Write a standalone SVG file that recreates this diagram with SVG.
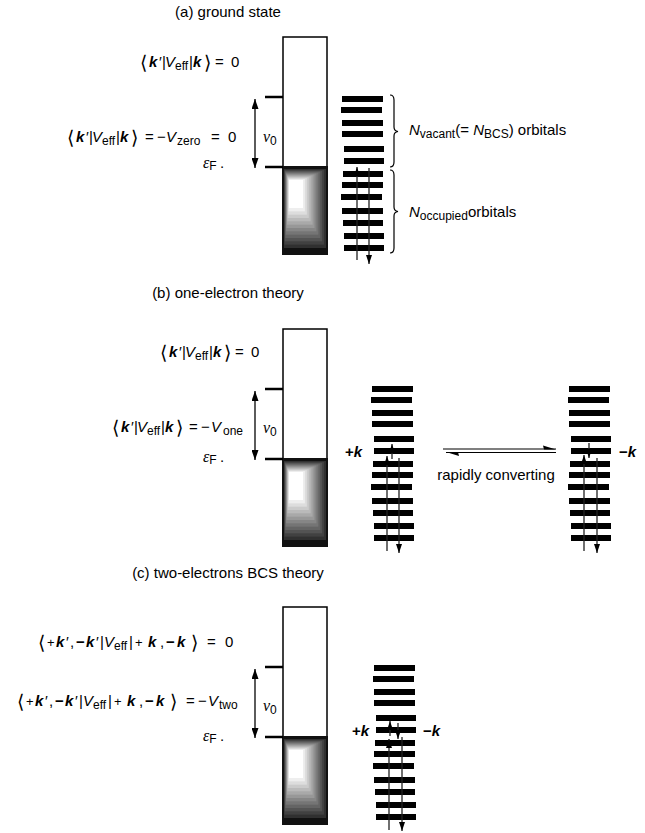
<svg xmlns="http://www.w3.org/2000/svg" xmlns:xlink="http://www.w3.org/1999/xlink" width="645" height="833" viewBox="0 0 645 833">
<style>
  text { font-family: "Liberation Sans", Arial, sans-serif; font-size: 15px; fill: #000; }
  .bk { font-weight: bold; font-style: italic; }
  .it { font-style: italic; }
  .sb { font-size: 12px; }
  .br { font-family: "DejaVu Sans", sans-serif; font-size: 19px; }
  .gr { font-family: "Liberation Serif", serif; font-style: italic; font-size: 16px; }
  .ttl { text-anchor: middle; }
  .bar { fill: #000; }
  .ln { stroke: #222; stroke-width: 1.3; fill: none; }
  .dbl { stroke: #333; stroke-width: 1.6; fill: none; }
  .tick { stroke: #000; stroke-width: 2.5; }
  .brace { stroke: #000; stroke-width: 1.2; fill: none; }
  .eq { stroke: #000; stroke-width: 1.2; fill: none; }
</style>
<defs>
  <marker id="ah" viewBox="0 0 10 7" refX="10" refY="3.5" markerWidth="10" markerHeight="7" markerUnits="userSpaceOnUse" orient="auto-start-reverse">
    <path d="M0,0 L10,3.5 L0,7 z" fill="#000"/>
  </marker>
  <marker id="as" viewBox="0 0 9 6" refX="9" refY="3" markerWidth="9" markerHeight="6" markerUnits="userSpaceOnUse" orient="auto">
    <path d="M0,0 L9,3 L0,6 z" fill="#000"/>
  </marker>
  <!-- energy band: empty upper part, filled (shaded) part below the Fermi level -->
  <g id="band">
    <rect x="283" y="0" width="44" height="130" fill="#fff" stroke="#000" stroke-width="1.5"/>
    <rect x="282" y="129" width="46" height="89" fill="#111"/>
    <rect x="284" y="132" width="42" height="79" fill="#303030"/>
    <rect x="284.42" y="132.92" width="39.67" height="74.75" fill="#414141"/>
    <rect x="284.83" y="133.83" width="37.33" height="70.5" fill="#535353"/>
    <rect x="285.25" y="134.75" width="35" height="66.25" fill="#646464"/>
    <rect x="285.67" y="135.67" width="32.67" height="62" fill="#757575"/>
    <rect x="286.08" y="136.58" width="30.33" height="57.75" fill="#868686"/>
    <rect x="286.5" y="137.5" width="28" height="53.5" fill="#989898"/>
    <rect x="286.92" y="138.42" width="25.67" height="49.25" fill="#a9a9a9"/>
    <rect x="287.33" y="139.33" width="23.33" height="45" fill="#bababa"/>
    <rect x="287.75" y="140.25" width="21" height="40.75" fill="#cbcbcb"/>
    <rect x="288.17" y="141.17" width="18.67" height="36.5" fill="#dddddd"/>
    <rect x="288.58" y="142.08" width="16.33" height="32.25" fill="#eeeeee"/>
    <rect x="289" y="143" width="14" height="28" fill="#fff"/>
    <line class="tick" x1="265" y1="60" x2="283" y2="60"/>
    <line class="tick" x1="265" y1="130" x2="283" y2="130"/>
    <line class="dbl" x1="255" y1="62" x2="255" y2="131" marker-start="url(#ah)" marker-end="url(#ah)"/>
  </g>
  <!-- ladder of orbital levels -->
  <g id="ladder">
    <rect class="bar" x="0" y="-3" width="41" height="6"/>
    <rect class="bar" x="-1" y="8" width="41" height="6"/>
    <rect class="bar" x="0" y="21" width="41" height="6"/>
    <rect class="bar" x="0" y="32" width="41" height="6"/>
    <rect class="bar" x="2" y="47" width="40" height="6"/>
    <rect class="bar" x="2" y="59" width="40" height="6"/>
    <rect class="bar" x="1" y="72" width="40" height="6"/>
    <rect class="bar" x="0" y="83" width="41" height="6"/>
    <rect class="bar" x="-1" y="95" width="41" height="6"/>
    <rect class="bar" x="0" y="109" width="41" height="6"/>
    <rect class="bar" x="1" y="121" width="40" height="6"/>
    <rect class="bar" x="2" y="134" width="40" height="6"/>
    <rect class="bar" x="2" y="146" width="40" height="6"/>
  </g>
</defs>

<!-- (a) ground state -->
<text class="ttl" x="228" y="17">(a) ground state</text>
<g id="band-a"><use xlink:href="#band" transform="translate(0,37)"/></g>
<g id="eq-a1"><text x="140" y="67"><tspan class="br" dy="2">⟨</tspan><tspan class="bk" x="149" dy="-2">k</tspan><tspan x="159">′</tspan><tspan x="162">|</tspan><tspan class="it" x="165">V</tspan><tspan class="sb" x="175" dy="3">eff</tspan><tspan x="189" dy="-3">|</tspan><tspan class="bk" x="193">k</tspan><tspan class="br" x="204" dy="2">⟩</tspan><tspan x="215" dy="-2">=</tspan><tspan x="231">0</tspan></text></g>
<g id="eq-a2"><text x="67" y="142"><tspan class="br" dy="2">⟨</tspan><tspan class="bk" x="76" dy="-2">k</tspan><tspan x="86">′</tspan><tspan x="89">|</tspan><tspan class="it" x="92">V</tspan><tspan class="sb" x="102" dy="3">eff</tspan><tspan x="116" dy="-3">|</tspan><tspan class="bk" x="120">k</tspan><tspan class="br" x="131" dy="2">⟩</tspan><tspan x="145" dy="-2">=</tspan><tspan x="157">−</tspan><tspan class="it" x="166">V</tspan><tspan class="sb" x="177" dy="3" font-size="13">zero</tspan><tspan x="211" dy="-3">=</tspan><tspan x="228">0</tspan></text></g>
<g id="nu-a"><text x="263" y="142"><tspan class="gr">ν</tspan><tspan class="sb" dy="3">0</tspan></text></g>
<g id="ef-a"><text x="203" y="168"><tspan class="gr" font-size="14">ε</tspan><tspan class="sb" font-size="11" dy="2">F</tspan><tspan x="220" dy="-2">.</tspan></text></g>
<g id="orb-a">
  <use xlink:href="#ladder" transform="translate(342,99)"/>
  <line class="ln" x1="357" y1="260" x2="357" y2="167" marker-end="url(#as)"/>
  <line class="ln" x1="369" y1="168" x2="369" y2="264" marker-end="url(#as)"/>
</g>
<g id="lbl-a">
  <path class="brace" d="M390,95 Q394,95 394,100 L394,127 Q394,131 398,131.5 Q394,132 394,136 L394,162 Q394,167 390,167"/>
  <path class="brace" d="M390,170 Q394,170 394,175 L394,207 Q394,211 398,211.5 Q394,212 394,216 L394,248 Q394,253 390,253"/>
  <text x="409" y="135" font-size="15.5"><tspan class="it">N</tspan><tspan class="sb" font-size="11" dy="3">vacant</tspan><tspan dy="-3">(= </tspan><tspan class="it">N</tspan><tspan class="sb" font-size="11" dy="3">BCS</tspan><tspan dy="-3">) orbitals</tspan></text>
  <text x="409" y="217" font-size="15.5"><tspan class="it">N</tspan><tspan class="sb" font-size="11" dy="3">occupied</tspan><tspan dy="-3">orbitals</tspan></text>
</g>

<!-- (b) one-electron theory -->
<text class="ttl" x="228" y="298">(b) one-electron theory</text>
<g id="band-b"><use xlink:href="#band" transform="translate(0,329)"/></g>
<g id="eq-b1"><text x="160" y="357"><tspan class="br" dy="2">⟨</tspan><tspan class="bk" x="169" dy="-2">k</tspan><tspan x="179">′</tspan><tspan x="182">|</tspan><tspan class="it" x="185">V</tspan><tspan class="sb" x="195" dy="3">eff</tspan><tspan x="209" dy="-3">|</tspan><tspan class="bk" x="213">k</tspan><tspan class="br" x="224" dy="2">⟩</tspan><tspan x="235" dy="-2">=</tspan><tspan x="251">0</tspan></text></g>
<g id="eq-b2"><text x="112" y="432"><tspan class="br" dy="2">⟨</tspan><tspan class="bk" x="121" dy="-2">k</tspan><tspan x="131">′</tspan><tspan x="134">|</tspan><tspan class="it" x="137">V</tspan><tspan class="sb" x="147" dy="3">eff</tspan><tspan x="161" dy="-3">|</tspan><tspan class="bk" x="165">k</tspan><tspan class="br" x="176" dy="2">⟩</tspan><tspan x="189" dy="-2">=</tspan><tspan x="201">−</tspan><tspan class="it" x="211">V</tspan><tspan class="sb" x="223" dy="3" font-size="14">one</tspan></text></g>
<g id="nu-b"><text x="263" y="433"><tspan class="gr">ν</tspan><tspan class="sb" dy="3">0</tspan></text></g>
<g id="ef-b"><text x="203" y="462"><tspan class="gr" font-size="14">ε</tspan><tspan class="sb" font-size="11" dy="2">F</tspan><tspan x="220" dy="-2">.</tspan></text></g>
<g id="orb-b-plus">
  <use xlink:href="#ladder" transform="translate(372,389)"/>
  <line class="ln" x1="392" y1="459" x2="392" y2="444" marker-end="url(#as)"/>
  <line class="ln" x1="387" y1="551" x2="387" y2="456" marker-end="url(#as)"/>
  <line class="ln" x1="399" y1="458" x2="399" y2="553" marker-end="url(#as)"/>
  <text x="345" y="457"><tspan font-weight="bold">+</tspan><tspan class="bk">k</tspan></text>
</g>
<g id="orb-b-minus">
  <use xlink:href="#ladder" transform="translate(569,389)"/>
  <line class="ln" x1="589" y1="443" x2="589" y2="458" marker-end="url(#as)"/>
  <line class="ln" x1="584" y1="551" x2="584" y2="455" marker-end="url(#as)"/>
  <line class="ln" x1="597" y1="458" x2="597" y2="553" marker-end="url(#as)"/>
  <text x="619" y="457"><tspan font-weight="bold">−</tspan><tspan class="bk">k</tspan></text>
</g>
<g id="conn-b">
  <line class="eq" x1="443" y1="449" x2="556" y2="449"/>
  <path d="M556,449.6 L543,445.5 L544,449.6 z" fill="#000"/>
  <line class="eq" x1="446" y1="452.5" x2="556" y2="452.5"/>
  <path d="M446,451.9 L459,456 L458,451.9 z" fill="#000"/>
  <text x="496" y="480" text-anchor="middle" font-size="15.5">rapidly converting</text>
</g>

<!-- (c) two-electrons BCS theory -->
<text class="ttl" x="228" y="578">(c) two-electrons BCS theory</text>
<g id="band-c"><use xlink:href="#band" transform="translate(0,607)"/></g>
<g id="eq-c1"><text x="38" y="647"><tspan class="br" dy="2">⟨</tspan><tspan x="47" dy="-2" font-size="13">+</tspan><tspan class="bk" x="56">k</tspan><tspan x="66">′</tspan><tspan x="70">,</tspan><tspan font-weight="bold" x="76">−</tspan><tspan class="bk" x="86">k</tspan><tspan x="96">′</tspan><tspan x="100">|</tspan><tspan class="it" x="104">V</tspan><tspan class="sb" x="114" dy="3">eff</tspan><tspan x="129" dy="-3">|</tspan><tspan x="135" font-size="13">+</tspan><tspan class="bk" x="148">k</tspan><tspan x="160">,</tspan><tspan font-weight="bold" x="166">−</tspan><tspan class="bk" x="177">k</tspan><tspan class="br" x="191" dy="2">⟩</tspan><tspan x="207" dy="-2">=</tspan><tspan x="225">0</tspan></text></g>
<g id="eq-c2"><text x="17" y="706"><tspan class="br" dy="2">⟨</tspan><tspan x="26" dy="-2" font-size="13">+</tspan><tspan class="bk" x="35">k</tspan><tspan x="45">′</tspan><tspan x="49">,</tspan><tspan font-weight="bold" x="55">−</tspan><tspan class="bk" x="65">k</tspan><tspan x="75">′</tspan><tspan x="79">|</tspan><tspan class="it" x="83">V</tspan><tspan class="sb" x="93" dy="3">eff</tspan><tspan x="108" dy="-3">|</tspan><tspan x="114" font-size="13">+</tspan><tspan class="bk" x="127">k</tspan><tspan x="139">,</tspan><tspan font-weight="bold" x="145">−</tspan><tspan class="bk" x="156">k</tspan><tspan class="br" x="170" dy="2">⟩</tspan><tspan x="186" dy="-2">=</tspan><tspan x="198">−</tspan><tspan class="it" x="208">V</tspan><tspan class="sb" x="219" dy="3" font-size="13">two</tspan></text></g>
<g id="nu-c"><text x="263" y="711"><tspan class="gr">ν</tspan><tspan class="sb" dy="3">0</tspan></text></g>
<g id="ef-c"><text x="203" y="741"><tspan class="gr" font-size="14">ε</tspan><tspan class="sb" font-size="11" dy="2">F</tspan><tspan x="220" dy="-2">.</tspan></text></g>
<g id="orb-c">
  <use xlink:href="#ladder" transform="translate(374,668)"/>
  <line class="ln" x1="390" y1="736" x2="390" y2="721" marker-end="url(#as)"/>
  <line class="ln" x1="398" y1="723" x2="398" y2="739" marker-end="url(#as)"/>
  <line class="ln" x1="389" y1="830" x2="389" y2="739" marker-end="url(#as)"/>
  <line class="ln" x1="402" y1="737" x2="402" y2="831" marker-end="url(#as)"/>
  <text x="352" y="736"><tspan font-weight="bold">+</tspan><tspan class="bk">k</tspan></text>
  <text x="423" y="736"><tspan font-weight="bold">−</tspan><tspan class="bk">k</tspan></text>
</g>
</svg>
